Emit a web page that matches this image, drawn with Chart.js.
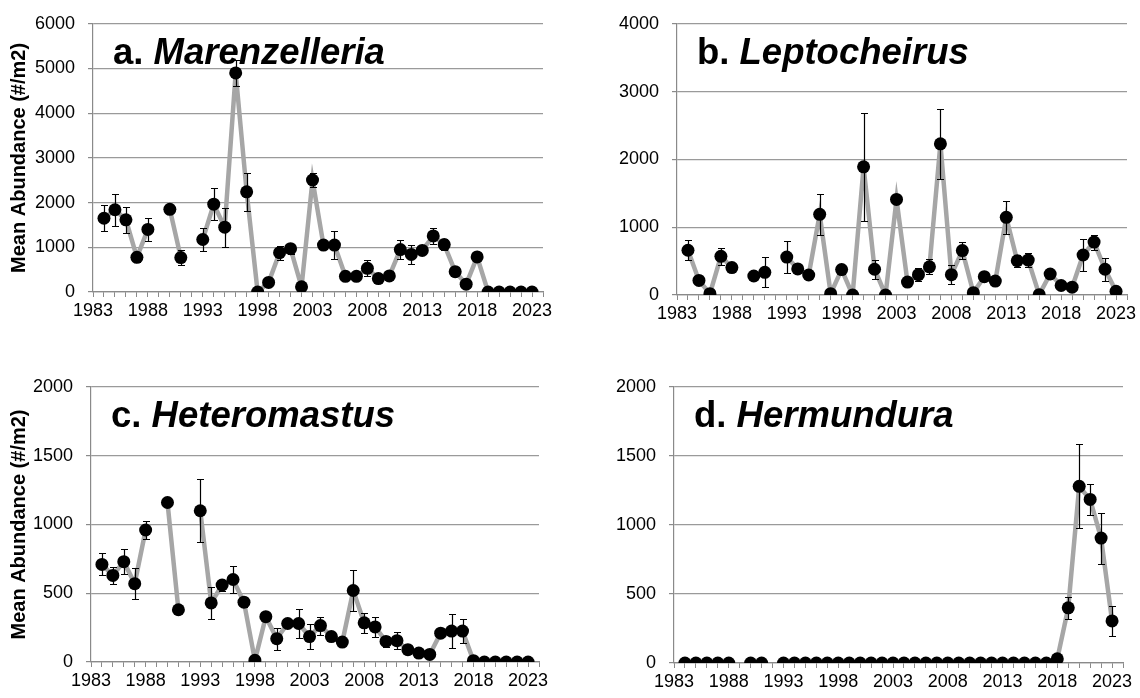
<!DOCTYPE html>
<html>
<head>
<meta charset="utf-8">
<script src="https://cdn.jsdelivr.net/npm/chart.js@4/dist/chart.umd.min.js"></script>
<style>
  html, body { margin: 0; padding: 0; background: #ffffff; }
  #wrap { position: relative; width: 1140px; height: 698px; overflow: hidden; background: #ffffff; }
  #wrap canvas { position: absolute; }
</style>
</head>
<body>
<div id="wrap">
  <canvas id="panelA" width="570" height="340" style="left:0px;top:0px;width:570px;height:340px"></canvas>
  <canvas id="panelB" width="570" height="340" style="left:570px;top:0px;width:570px;height:340px"></canvas>
  <canvas id="panelC" width="570" height="358" style="left:0px;top:340px;width:570px;height:358px"></canvas>
  <canvas id="panelD" width="570" height="358" style="left:570px;top:340px;width:570px;height:358px"></canvas>
</div>
<script>
// Survey years (1989 and 1992 were not sampled -> null breaks the line)
const years = [1984, 1985, 1986, 1987, 1988, 1989, 1990, 1991, 1992, 1993,
               1994, 1995, 1996, 1997, 1998, 1999, 2000, 2001, 2002, 2003,
               2004, 2005, 2006, 2007, 2008, 2009, 2010, 2011, 2012, 2013,
               2014, 2015, 2016, 2017, 2018, 2019, 2020, 2021, 2022, 2023];

// Labelled x ticks
const yearLabels = [1983, 1988, 1993, 1998, 2003, 2008, 2013, 2018, 2023];

// a. Marenzelleria — mean abundance (#/m2) and standard error
const marenzelleriaMean = [1650, 1840, 1615, 775, 1400, null, 1850, 770, null, 1175,
                           1965, 1450, 4900, 2240, 0, 215, 880, 970, 115, 2505,
                           1050, 1050, 350, 350, 530, 300, 360, 950, 840, 930,
                           1255, 1060, 455, 175, 785, 0, 0, 0, 0, 0];
const marenzelleriaErr  = [290, 360, 285, 100, 250, null, 0, 160, null, 250,
                           360, 440, 300, 420, 0, 0, 160, 110, 0, 150,
                           0, 310, 0, 0, 180, 0, 0, 210, 220, 0,
                           180, 120, 0, 0, 0, 0, 0, 0, 0, 0];

// b. Leptocheirus
const leptocheirusMean = [660, 215, 20, 570, 405, null, 280, 335, null, 560,
                          385, 295, 1190, 20, 375, 0, 1890, 380, 0, 1410,
                          190, 300, 415, 2230, 300, 655, 35, 270, 205, 1145,
                          505, 515, 5, 310, 140, 115, 590, 780, 380, 55];
const leptocheirusErr  = [145, 0, 0, 130, 0, null, 0, 220, null, 240,
                          0, 0, 300, 0, 60, 0, 800, 140, 0, 0,
                          0, 95, 110, 520, 145, 120, 0, 0, 0, 240,
                          85, 100, 0, 0, 0, 0, 230, 110, 170, 0];

// c. Heteromastus
const heteromastusMean = [710, 630, 730, 570, 960, null, 1160, 380, null, 1100,
                          430, 560, 600, 435, 12, 330, 170, 280, 280, 185,
                          265, 185, 145, 520, 285, 255, 150, 155, 90, 65,
                          55, 210, 225, 225, 10, 0, 0, 0, 0, 0];
const heteromastusErr  = [80, 63, 90, 112, 62, null, 0, 0, null, 230,
                          115, 40, 100, 35, 0, 0, 80, 0, 105, 90,
                          65, 0, 30, 150, 75, 70, 40, 60, 0, 0,
                          0, 0, 125, 87, 0, 0, 0, 0, 0, 0];

// d. Hermundura
const hermunduraMean = [0, 0, 0, 0, 0, null, 0, 0, null, 0,
                        0, 0, 0, 0, 0, 0, 0, 0, 0, 0,
                        0, 0, 0, 0, 0, 0, 0, 0, 0, 0,
                        0, 0, 0, 0, 30, 400, 1280, 1185, 905, 305];
const hermunduraErr  = [0, 0, 0, 0, 0, null, 0, 0, null, 0,
                        0, 0, 0, 0, 0, 0, 0, 0, 0, 0,
                        0, 0, 0, 0, 0, 0, 0, 0, 0, 0,
                        0, 0, 0, 0, 0, 80, 305, 115, 185, 107];

const X_MIN = 1983, X_MAX = 2024;
const FONT = '"Liberation Sans", Arial, Helvetica, sans-serif';
const GRID = '#9a9a9a';
const AXIS = '#8a8a8a';

// Vertical error bars with caps, drawn on top of the line
const errorBars = {
  id: 'errorBars',
  afterDatasetsDraw(chart) {
    const { ctx, scales: { x, y } } = chart;
    const ds = chart.data.datasets[0];
    ctx.save();
    ctx.strokeStyle = '#000000';
    ctx.lineWidth = 1.2;
    ds.data.forEach((p, i) => {
      const e = ds.errors[i];
      if (p.y == null || !e) return;
      const px = Math.round(x.getPixelForValue(p.x)) + 0.5;
      const yTop = Math.round(y.getPixelForValue(p.y + e)) + 0.5;
      const yBot = Math.round(y.getPixelForValue(p.y - e)) + 0.5;
      const cap = 3.5;
      ctx.beginPath();
      ctx.moveTo(px, yTop); ctx.lineTo(px, yBot);
      ctx.moveTo(px - cap, yTop); ctx.lineTo(px + cap, yTop);
      ctx.moveTo(px - cap, yBot); ctx.lineTo(px + cap, yBot);
      ctx.stroke();
    });
    ctx.restore();
  }
};

// Panel heading: letter in bold, genus name in bold italic
const panelTitle = {
  id: 'panelTitle',
  afterDraw(chart, args, opts) {
    const { ctx, chartArea } = chart;
    ctx.save();
    ctx.fillStyle = '#000000';
    ctx.textBaseline = 'alphabetic';
    ctx.textAlign = 'left';
    let tx = chartArea.left + opts.dx;
    const ty = chartArea.top + opts.dy;
    ctx.font = `bold ${opts.size}px ${FONT}`;
    ctx.fillText(opts.prefix, tx, ty);
    tx += ctx.measureText(opts.prefix).width;
    ctx.font = `italic bold ${opts.size}px ${FONT}`;
    ctx.fillText(opts.name, tx, ty);
    ctx.restore();
  }
};

function makePanel(id, cfg) {
  const points = years.map((yr, i) => ({ x: yr, y: cfg.mean[i] }));
  return new Chart(document.getElementById(id), {
    type: 'line',
    data: {
      datasets: [{
        data: points,
        errors: cfg.err,
        borderColor: '#a6a6a6',
        borderWidth: 4.5,
        tension: 0,
        spanGaps: false,
        pointRadius: 6.5,
        pointHoverRadius: 6.5,
        pointBackgroundColor: '#000000',
        pointBorderColor: '#000000',
        pointBorderWidth: 0
      }]
    },
    options: {
      responsive: false,
      animation: false,
      events: [],
      layout: { padding: cfg.padding },
      plugins: {
        legend: { display: false },
        tooltip: { enabled: false },
        panelTitle: { prefix: cfg.prefix, name: cfg.name, dx: 20, dy: 40, size: 36.5 }
      },
      scales: {
        x: {
          type: 'linear',
          min: X_MIN,
          max: X_MAX,
          afterBuildTicks(scale) {
            const t = [];
            for (let v = X_MIN; v <= X_MAX; v++) t.push({ value: v });
            scale.ticks = t;
          },
          afterFit(scale) { scale.height = 30; },
          ticks: {
            autoSkip: false,
            maxRotation: 0,
            minRotation: 0,
            padding: 3,
            color: '#000000',
            font: { family: FONT, size: 18 },
            callback: (v) => (yearLabels.includes(v) ? String(v) : '')
          },
          grid: {
            drawOnChartArea: false,
            drawTicks: true,
            tickLength: 5,
            color: AXIS,
            lineWidth: 1
          },
          border: { display: true, color: AXIS, width: 1.2 }
        },
        y: {
          min: 0,
          max: cfg.yMax,
          afterBuildTicks(scale) {
            scale.ticks = cfg.yTicks.map(v => ({ value: v }));
          },
          afterFit(scale) { scale.width = cfg.yWidth; },
          ticks: {
            padding: 13,
            color: '#000000',
            font: { family: FONT, size: 18 },
            callback: (v) => String(v)
          },
          grid: {
            color: GRID,
            lineWidth: 1.2,
            drawTicks: true,
            tickLength: 5,
            tickColor: AXIS
          },
          border: { display: true, color: AXIS, width: 1.2 },
          title: {
            display: !!cfg.yTitle,
            text: cfg.yTitle || '',
            color: '#000000',
            font: { family: FONT, size: 20, weight: 'bold' },
            padding: { top: 0, bottom: 0 }
          }
        }
      }
    },
    plugins: [errorBars, panelTitle]
  });
}

const yTitle = 'Mean Abundance (#/m2)';

makePanel('panelA', {
  mean: marenzelleriaMean, err: marenzelleriaErr,
  prefix: 'a. ', name: 'Marenzelleria',
  yMax: 6000, yTicks: [0, 1000, 2000, 3000, 4000, 5000, 6000],
  yTitle: yTitle, yWidth: 86,
  padding: { left: 7, top: 16, right: 27, bottom: 18 }
});

makePanel('panelB', {
  mean: leptocheirusMean, err: leptocheirusErr,
  prefix: 'b. ', name: 'Leptocheirus',
  yMax: 4000, yTicks: [0, 1000, 2000, 3000, 4000],
  yTitle: null, yWidth: 99,
  padding: { left: 8, top: 19, right: 13, bottom: 15 }
});

makePanel('panelC', {
  mean: heteromastusMean, err: heteromastusErr,
  prefix: 'c. ', name: 'Heteromastus',
  yMax: 2000, yTicks: [0, 500, 1000, 1500, 2000],
  yTitle: yTitle, yWidth: 84,
  padding: { left: 7, top: 47, right: 31, bottom: 6 }
});

makePanel('panelD', {
  mean: hermunduraMean, err: hermunduraErr,
  prefix: 'd. ', name: 'Hermundura',
  yMax: 2000, yTicks: [0, 500, 1000, 1500, 2000],
  yTitle: null, yWidth: 96,
  padding: { left: 8, top: 47, right: 17, bottom: 5 }
});
</script>
</body>
</html>
